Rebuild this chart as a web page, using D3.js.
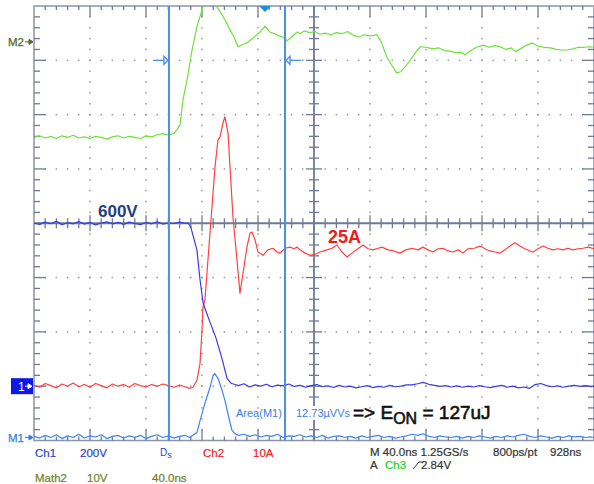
<!DOCTYPE html>
<html>
<head>
<meta charset="utf-8">
<script src="https://cdn.jsdelivr.net/npm/d3@7"></script>
<style>
  body { margin: 0; background: #fff; }
  text { font-family: "Liberation Sans", Arial, sans-serif; }
</style>
</head>
<body>
<script>
// time in ns from the left edge of the screen (40 ns/div, 10 div)
// Ch1 drain voltage (V), 200 V/div
const ch1Volts = [
  [0,600],[4,596],[8,604],[12,598],[16,607],[20,595],[24,602],[28,598],[32,606],[36,597],
  [40,603],[44,594],[48,601],[52,605],[56,598],[60,603],[64,596],[68,604],[72,599],[76,595],
  [80,603],[84,598],[88,605],[92,597],[96,601],[100,599],[104,604],[108,600],[110,601],[112,586],
  [116.4,501],[118.6,391],[120.7,310],[122,288],[125.7,236],[130,177],[134,107],[137.9,29],[140.7,11],[143,7],
  [146,2],[150,9],[154,-3],[158,5],[162,0],[166,7],[170,-2],[174,4],[178,1],[182,8],
  [186,-1],[190,3],[194,-4],[198,2],[202,6],[206,-2],[210,1],[214,-5],[218,3],[222,-3],
  [226,0],[230,-6],[234,-2],[238,2],[242,-5],[246,-1],[250,-4],[254,3],[258,-2],[262,0],
  [266,5],[270,5],[274,9],[278,14],[282,7],[286,3],[290,-1],[294,2],[298,-3],[302,1],
  [306,-4],[310,0],[314,-3],[318,2],[322,-2],[326,-5],[330,-1],[334,3],[338,-4],[342,0],
  [346,-6],[350,-3],[354,-8],[358,6],[362,10],[366,2],[370,-2],[374,1],[378,-4],[382,0],
  [386,3],[390,-1],[394,2],[398,-2],[400,0]
]

// Ch2 drain current (A), 10 A/div
const ch2Amps = [
  [0,0.2],[4,-0.2],[8,0.5],[12,0.1],[16,-0.3],[20,0.4],[24,0],[28,0.6],[32,-0.1],[36,0.3],
  [40,-0.2],[44,0.5],[48,0.1],[52,-0.3],[56,0.4],[60,0],[64,0.3],[68,-0.2],[72,0.5],[76,0.1],
  [80,-0.1],[84,0.3],[88,0],[92,0.4],[96,0.1],[100,-0.2],[104,0.2],[108,-0.1],[111,-0.4],[113.6,-0.2],
  [116.4,1.1],[118.6,4.2],[120,10.3],[120.7,14.6],[122.1,15.9],[125.7,28.2],[129.3,40.4],[131.4,45.3],[132.9,45.9],[135,48.5],
  [136.4,49.6],[138.6,46.6],[140,40.4],[142.1,31.2],[145,23.2],[147.1,17.1],[149.3,20.8],[152.1,25.6],[154.3,28.2],[155.7,28.4],
  [157.9,26.9],[160,24.7],[163.6,24.1],[167,25.1],[170.7,25.4],[173.6,24.7],[175.7,24.5],[179.3,25.4],[182.9,25.6],[185.7,25.3],
  [187.9,25.6],[190,25.1],[193.6,24.5],[197.1,24.1],[200.7,24.3],[204.3,24.7],[209.3,25.1],[212.9,25.4],[216.4,26],[220,24.7],
  [223.6,23.8],[227.1,24.5],[231.4,25.3],[235,26],[238.6,25.3],[242.1,25.1],[245.7,25.4],[248.6,25.6],[252.9,25.1],[257.1,24.9],
  [261.4,24.5],[265.7,25.1],[270,25.4],[274.3,25.1],[277.9,25.6],[281.4,25.1],[285,24.7],[288.6,25.3],[292.1,25.4],[295.7,24.9],
  [299.3,24.7],[302.9,25.1],[306.4,24.5],[310,25.3],[314.3,25.4],[318.6,25.8],[322.1,25.3],[325.7,24.9],[329.3,24.7],[332.9,24.5],
  [336.4,25.1],[340,25.8],[343.6,26.4],[347.1,25.8],[350.7,25.3],[354.3,24.9],[356.4,24.7],[360,25.3],[363.6,25.8],[367.1,25.4],
  [370.7,25.1],[374.3,25.3],[377.9,25.1],[381.4,25.4],[385,25.1],[388.6,25.3],[392.1,25.4],[395.7,25.6],[400,25.3]
]

// Math2 gate signal (V), 10 V/div
const math2Volts = [
  [0,-17.6],[4,-17.3],[8,-17.7],[12,-17.4],[16,-17.8],[20,-17.3],[24,-17.6],[28,-17.2],[32,-17.7],[36,-17.5],
  [40,-17.8],[44,-17.4],[48,-17.6],[52,-17.9],[56,-17.5],[60,-17.3],[64,-17.7],[68,-17.4],[72,-17.6],[76,-17.8],
  [80,-17.3],[84,-17.5],[88,-17.1],[92,-16.9],[96,-17.2],[100,-16.8],[102,-16.2],[104.3,-15.3],[106.4,-10.7],[109.3,-7],
  [112.9,-1.5],[116.4,2.8],[120,5.9],[124,8.5],[128,8.5],[130.7,6.4],[134.3,5],[137,3.8],[140,2.2],[143,0.8],
  [145.7,-0.9],[149,-0.5],[152,-0.2],[156,0.6],[161.4,1.8],[165,2.9],[168.6,1.8],[172,1.5],[175,1.1],[177.9,0.9],
  [180.7,0.2],[184,0.9],[187.9,1.8],[190,1.5],[193,2],[197,1.7],[200.7,1.9],[204,1.4],[208,1.6],[212,1.3],
  [216,1.7],[220,1.5],[224,1.9],[228,1.2],[232,0.9],[236,1.3],[240,1.1],[245,1.3],[248,0],[252,-2.8],
  [256,-4.5],[259,-5.7],[262,-5.5],[266,-4.3],[269,-3.3],[273,-1.8],[276,-0.9],[280,-1],[285,-1.3],[289,-1.1],
  [293,-1.6],[297,-1.7],[301,-2],[305,-1.9],[308,-2.4],[312,-1.6],[316,-1],[321,-0.6],[325,-1],[329,-0.7],
  [333,-0.9],[337,-1.4],[341,-1.1],[344,-1.8],[348,-1.2],[352,-0.6],[356,-0.2],[360,-0.8],[364,-1],[369,-1.1],
  [373,-1.4],[377,-1.5],[381,-1.5],[385,-1.3],[389,-1],[393,-1],[397,-0.9],[400,-1]
]

// Math1 power trace (screen divisions above its marker)
const math1Div = [
  [0,0.02],[4,-0.01],[8,0.04],[12,0],[16,0.05],[20,-0.02],[24,0.03],[28,0],[32,0.06],[36,-0.01],
  [40,0.03],[44,0.01],[48,0.05],[52,-0.02],[56,0.02],[60,0.04],[64,-0.01],[68,0.03],[72,0],[76,0.04],
  [80,-0.02],[84,0.02],[88,0.05],[92,0],[96,0.03],[100,-0.01],[104,0.02],[108,0.04],[111,0],[116.4,0.09],
  [118.6,0.31],[122.1,0.63],[125.7,0.92],[127.9,1.14],[129,1.18],[131.4,1.09],[132.9,0.98],[134.3,0.87],[136.4,0.68],[139.3,0.35],
  [141.4,0.13],[143.6,0.07],[146,0.04],[150,0.06],[154,0.02],[158,0.05],[162,0.01],[166,0.04],[170,0.02],[174,0.06],
  [178,0],[182,0.03],[186,0.02],[190,0.05],[194,0.01],[198,0.03],[202,0],[206,0.04],[210,-0.01],[214,0.02],
  [218,0.03],[222,0],[226,0.02],[230,-0.01],[234,0.03],[238,0],[242,0.02],[246,0.04],[250,0],[254,0.02],
  [258,-0.01],[262,0.01],[266,0.03],[270,0.06],[274,0.04],[278,0.07],[282,0.02],[286,0],[290,0.03],[294,0.01],
  [298,0],[302,0.02],[306,-0.01],[310,0.02],[314,0],[318,0.03],[322,0.01],[326,-0.01],[330,0.02],[334,0],
  [338,0.03],[342,0.01],[346,0.04],[350,0.06],[354,0.02],[358,0],[362,0.03],[366,0.01],[370,-0.01],[374,0.02],
  [378,0],[382,0.03],[386,0.01],[390,0.02],[394,0],[398,0.01],[400,0]
]

const cursorTimes = [96.4, 179.3]
const triggerTime = 165

const width = 594
const height = 484
const plot = { left: 34, right: 594, top: 6, bottom: 440.5 }

const svg = d3.select('body')
  .append('svg')
  .attr('width', width)
  .attr('height', height)

const x = d3.scaleLinear().domain([0, 400]).range([plot.left, plot.right])
const yDiv = d3.scaleLinear().domain([0, 8]).range([plot.bottom, plot.top])

// channel reference levels in divisions from the bottom
const ch1Ref = 1, ch2Ref = 1, m2Ref = 7.34, m1Ref = 0.055
const yCh1 = v => yDiv(ch1Ref + v / 200)
const yCh2 = v => yDiv(ch2Ref + v / 10)
const yM2 = v => yDiv(m2Ref + v / 10)
const yM1 = v => yDiv(m1Ref + v)

const gridColor = '#6f7a99'

// dotted graticule
const dots = []
d3.range(1, 10).filter(i => i !== 5).forEach(i => {
  d3.range(0.2, 8, 0.2).forEach(d => dots.push([x(i * 40), yDiv(d)]))
})
d3.range(1, 8).filter(i => i !== 4).forEach(i => {
  d3.range(8, 400, 8).forEach(t => dots.push([x(t), yDiv(i)]))
})
svg.append('g')
  .selectAll('rect')
  .data(dots)
  .enter()
  .append('rect')
  .attr('x', d => d[0] - 0.75)
  .attr('y', d => d[1] - 0.75)
  .attr('width', 1.5)
  .attr('height', 1.5)
  .attr('fill', '#9a9a9a')

// border
svg.append('rect')
  .attr('x', plot.left)
  .attr('y', plot.top)
  .attr('width', plot.right - plot.left)
  .attr('height', plot.bottom - plot.top)
  .attr('fill', 'none')
  .attr('stroke', '#8a93ae')
  .attr('stroke-width', 1.5)

// ticks on border and center axes
const ticks = svg.append('g').attr('stroke', gridColor).attr('stroke-width', 1.3)
d3.range(8, 400, 8).forEach((t, i) => {
  const major = (i + 1) % 5 === 0
  const len = major ? 11 : 4
  ticks.append('line').attr('x1', x(t)).attr('x2', x(t)).attr('y1', plot.top).attr('y2', plot.top + len)
  ticks.append('line').attr('x1', x(t)).attr('x2', x(t)).attr('y1', plot.bottom).attr('y2', plot.bottom - len)
  const c = major ? 8 : 5
  ticks.append('line').attr('x1', x(t)).attr('x2', x(t)).attr('y1', yDiv(4) - c).attr('y2', yDiv(4) + c)
})
d3.range(0.2, 8, 0.2).forEach((d, i) => {
  const major = (i + 1) % 5 === 0
  const len = major ? 12 : 6
  ticks.append('line').attr('x1', plot.left).attr('x2', plot.left + len).attr('y1', yDiv(d)).attr('y2', yDiv(d))
  ticks.append('line').attr('x1', plot.right).attr('x2', plot.right - len).attr('y1', yDiv(d)).attr('y2', yDiv(d))
  const c = major ? 8 : 5
  ticks.append('line').attr('x1', x(200) - c).attr('x2', x(200) + c).attr('y1', yDiv(d)).attr('y2', yDiv(d))
})
svg.append('line')
  .attr('x1', plot.left).attr('x2', plot.right)
  .attr('y1', yDiv(4)).attr('y2', yDiv(4))
  .attr('stroke', gridColor).attr('stroke-width', 1.8)
svg.append('line')
  .attr('x1', x(200)).attr('x2', x(200))
  .attr('y1', plot.top).attr('y2', plot.bottom)
  .attr('stroke', gridColor).attr('stroke-width', 1.8)

// traces
svg.append('clipPath').attr('id', 'clip')
  .append('rect')
  .attr('x', plot.left).attr('y', plot.top)
  .attr('width', plot.right - plot.left).attr('height', plot.bottom - plot.top)

const traces = svg.append('g').attr('clip-path', 'url(#clip)')
const drawTrace = (data, yFn, color) => {
  traces.append('path')
    .datum(data)
    .attr('fill', 'none')
    .attr('stroke', color)
    .attr('stroke-width', 1.2)
    .attr('stroke-linejoin', 'round')
    .attr('d', d3.line().x(d => x(d[0])).y(d => yFn(d[1])))
}
drawTrace(math2Volts, yM2, '#6fe03a')
drawTrace(ch2Amps, yCh2, '#ff4040')
drawTrace(ch1Volts, yCh1, '#3a3ae6')
drawTrace(math1Div, yM1, '#3f86ee')

// cursors
const cursorColor = '#4a8fe6'
svg.append('g')
  .selectAll('line')
  .data(cursorTimes)
  .enter()
  .append('line')
  .attr('x1', d => x(d)).attr('x2', d => x(d))
  .attr('y1', plot.top).attr('y2', plot.bottom)
  .attr('stroke', cursorColor)
  .attr('stroke-width', 2)

const cy = yDiv(7)
const c0 = x(cursorTimes[0]), c1 = x(cursorTimes[1])
svg.append('path')
  .attr('d', `M${c0 - 16},${cy}H${c0 - 5}M${c0 - 5},${cy - 4}L${c0 - 1},${cy}L${c0 - 5},${cy + 4}Z`)
  .attr('fill', '#fff').attr('stroke', cursorColor).attr('stroke-width', 1.3)
svg.append('path')
  .attr('d', `M${c1 + 16},${cy}H${c1 + 5}M${c1 + 5},${cy - 4}L${c1 + 1},${cy}L${c1 + 5},${cy + 4}Z`)
  .attr('fill', '#fff').attr('stroke', cursorColor).attr('stroke-width', 1.3)

// trigger marker
const tx = x(triggerTime)
svg.append('path')
  .attr('d', `M${tx - 6},${plot.top}L${tx + 6},${plot.top}L${tx},${plot.top + 6}Z`)
  .attr('fill', '#1d8fd8')

// channel markers on the left
const marker = (label, yPos, color) => {
  svg.append('text').attr('x', 8).attr('y', yPos + 4).attr('font-size', 11.5).attr('fill', color)
    .attr('stroke', color).attr('stroke-width', 0.25).text(label)
  svg.append('path')
    .attr('d', `M25,${yPos}H30M29,${yPos - 2.5}L33,${yPos}L29,${yPos + 2.5}Z`)
    .attr('stroke', color).attr('fill', color).attr('stroke-width', 1)
}
marker('M2', yM2(0), '#4f6a1e')
marker('M1', yM1(0), '#2f7fe6')

const y1 = yCh1(0)
svg.append('rect').attr('x', 11).attr('y', y1 - 8).attr('width', 22).attr('height', 16).attr('fill', '#0c18e8')
svg.append('text').attr('x', 18).attr('y', y1 + 4.5).attr('font-size', 12).attr('fill', '#fff').text('1')
svg.append('path')
  .attr('d', `M25,${y1}H29M28,${y1 - 2.5}L32,${y1}L28,${y1 + 2.5}Z`)
  .attr('stroke', '#fff').attr('fill', '#fff').attr('stroke-width', 1)

// annotations
svg.append('text').attr('x', 98).attr('y', 217).attr('font-size', 17).attr('font-weight', 'bold')
  .attr('fill', '#1f3f80').text('600V')
svg.append('text').attr('x', 328).attr('y', 243).attr('font-size', 18).attr('font-weight', 'bold')
  .attr('fill', '#ee1c1c').text('25A')

svg.append('rect').attr('x', 294).attr('y', 406).attr('width', 56).attr('height', 14).attr('fill', '#fff')
svg.append('text').attr('x', 236).attr('y', 417).attr('font-size', 11).attr('fill', '#3a7ee6').text('Area(M1)')
svg.append('text').attr('x', 296).attr('y', 417).attr('font-size', 11).attr('fill', '#3a7ee6').text('12.73µVVs')

const eon = svg.append('text').attr('x', 353).attr('y', 419).attr('font-size', 19).attr('fill', '#111')
  .attr('stroke', '#111').attr('stroke-width', 0.6)
eon.append('tspan').text('=> E')
eon.append('tspan').attr('font-size', 16).attr('dy', 5).text('ON')
eon.append('tspan').attr('dy', -5).text(' = 127uJ')

// status lines
const status = [
  ['Ch1', 35, 457, '#2d3fd0'], ['200V', 80, 457, '#2d3fd0'],
  ['Ch2', 203, 457, '#ee2020'], ['10A', 253, 457, '#ee2020'],
  ['M 40.0ns 1.25GS/s', 370, 456, '#333'], ['800ps/pt', 493, 456, '#333'], ['928ns', 550, 456, '#333'],
  ['Math2', 35, 482, '#6b7f1f'], ['10V', 87, 482, '#6b7f1f'], ['40.0ns', 152, 482, '#6b7f1f'],
  ['A', 370, 469, '#333'], ['Ch3', 385, 469, '#1ecf1e'], ['2.84V', 421, 469, '#333']
]
svg.append('g')
  .selectAll('text')
  .data(status)
  .enter()
  .append('text')
  .attr('x', d => d[1])
  .attr('y', d => d[2])
  .attr('font-size', 11.5)
  .attr('fill', d => d[3])
  .attr('stroke', d => d[3])
  .attr('stroke-width', 0.2)
  .text(d => d[0])

const ds = svg.append('text').attr('x', 160).attr('y', 456).attr('font-size', 10).attr('fill', '#2d3fd0')
ds.append('tspan').text('D')
ds.append('tspan').attr('font-size', 9).attr('dy', 2).text('s')

svg.append('path')
  .attr('d', 'M413,469L419,462H422')
  .attr('fill', 'none').attr('stroke', '#333').attr('stroke-width', 1)
</script>
</body>
</html>
